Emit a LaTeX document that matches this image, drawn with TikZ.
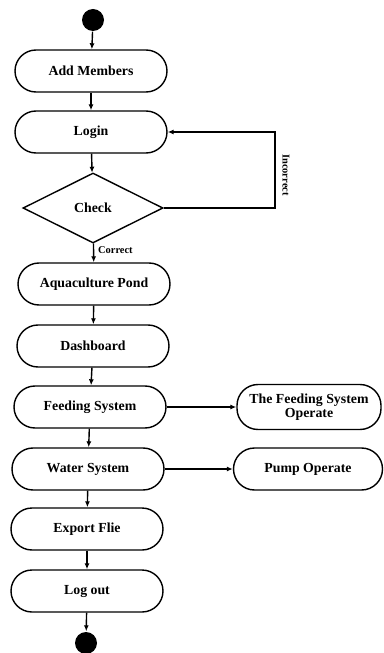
\documentclass[tikz,border=0pt]{standalone}
\usepackage{fontspec}
\setmainfont{Liberation Serif}
\usetikzlibrary{shapes.geometric,arrows.meta}
\begin{document}
\begin{tikzpicture}[x=0.3mm,y=-0.3mm,
  line width=1.2pt,>={Latex[length=1.8mm,width=1.5mm]},
  state node/.style={rectangle,rounded corners=6.3mm,draw,font=\fontsize{11.8}{11.5}\selectfont\bfseries,minimum width=45.6mm,minimum height=12.6mm,align=center,inner sep=1pt},
  check node/.style={diamond,draw,font=\fontsize{11.8}{11.5}\selectfont\bfseries,minimum width=42mm,minimum height=21mm,inner sep=0pt},
  dot node/.style={circle,fill,minimum size=6.6mm,inner sep=0pt}]
  \useasboundingbox (0,0) rectangle (383,653);
  \node[dot node] (1) at (93,20){};
  \node[state node] (2) at (91,71) {Add Members};
  \node[state node] (3) at (91,132) {Login};
  \node[check node] (4) at (93,208) {Check};
  \node[state node] (5) at (94,284) {Aquaculture Pond};
  \node[state node] (6) at (93,346) {Dashboard};
  \node[state node] (7) at (90,407) {Feeding System};
  \node[state node] (8) at (88,469) {Water System};
  \node[state node] (9) at (87,529) {Export Flie};
  \node[state node] (10) at (87,591) {Log out};
  \node[dot node] (11) at (86,643){};
  \node[state node,minimum width=43.2mm,minimum height=13.5mm] (12) at (309,407) {The Feeding System\\Operate};
  \node[state node,minimum width=44.7mm] (13) at (308,469) {Pump Operate};
  \coordinate (14) at (275,170);
  \node[rotate=-90,font=\fontsize{8.9}{10}\selectfont\bfseries] (15) at (286,175) {Incorrect};
  \path[->,every node/.style={font=\fontsize{8.9}{10}\selectfont\bfseries}]
   (1) edge (2)
   (2) edge (3)
   (3) edge (4)
   (4) edge node[right,pos=0.35] (16) {Correct} (5)
   (5) edge (6)
   (6) edge (7)
   (7) edge (8)
   (8) edge (9)
   (9) edge (10)
   (10) edge (11)
   (7) edge (12)
   (8) edge (13);
  \draw[->] (4) -| (14) |- (3);
\end{tikzpicture}
\end{document}
